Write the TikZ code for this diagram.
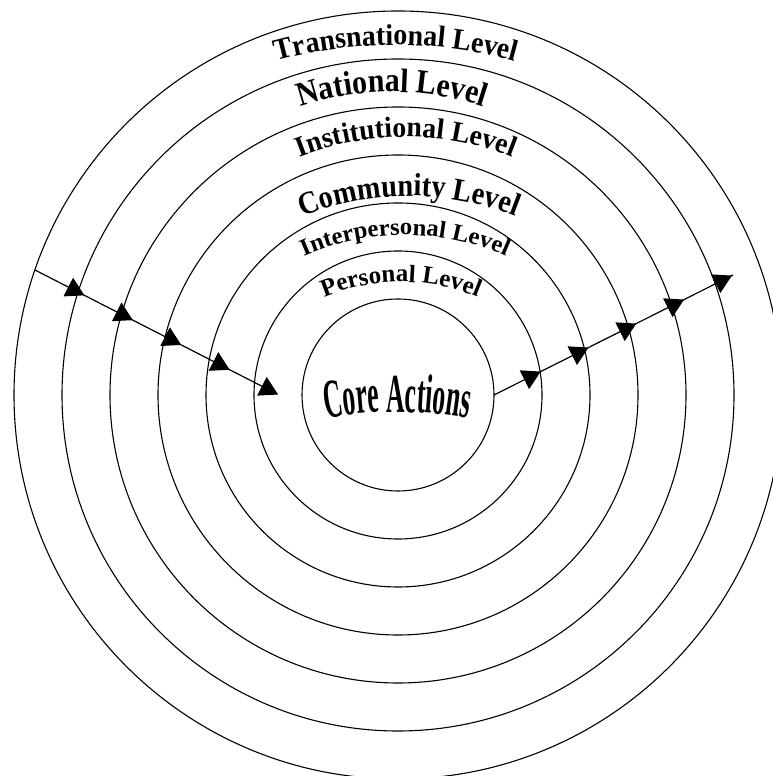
\documentclass[tikz,border=0pt]{standalone}
\usepackage{fontspec}
\setmainfont{Liberation Serif}
\usetikzlibrary{decorations.text,decorations.markings}
\newfontfamily\fTrans[FakeStretch=0.93]{Liberation Serif Bold}
\newfontfamily\fNat[FakeStretch=0.88]{Liberation Serif Bold}
\newfontfamily\fInst[FakeStretch=0.955]{Liberation Serif Bold}
\newfontfamily\fComm[FakeStretch=0.885]{Liberation Serif Bold}
\newfontfamily\fInter[FakeStretch=1.03]{Liberation Serif Bold}
\newfontfamily\fPers[FakeStretch=1.0]{Liberation Serif Bold}
\newfontfamily\fCore[FakeStretch=0.465]{Liberation Serif Bold}
\tikzset{
  ring/.style={circle, draw=black, line width=1.1pt, inner sep=0pt, outer sep=0pt},
  levellabel/.style={decorate, decoration={text along path, text align=center}},
  tri/.style={fill=black},
  flow/.style={line width=1.2pt, postaction={decorate, decoration={markings,
     mark=between positions #1 step 0.2 with {\fill[tri] (12.1pt,0pt)--(-6.06pt,10.5pt)--(-6.06pt,-10.5pt)--cycle;}}}}
}
\begin{document}
\begin{tikzpicture}[x=1pt,y=1pt]
\useasboundingbox (0,0) rectangle (773,776);
\fill[white] (0,0) rectangle (773,776);
\coordinate (C) at (398,381);
% rings
\node[ring, minimum size=768pt] (transnational) at (C) {};
\node[ring, minimum size=672pt] (national) at (C) {};
\node[ring, minimum size=576pt] (institutional) at (C) {};
\node[ring, minimum size=480pt] (community) at (C) {};
\node[ring, minimum size=384pt] (interpersonal) at (C) {};
\node[ring, minimum size=288pt] (personal) at (C) {};
\node[ring, minimum size=192pt] (core) at (C) {};
% labels along arcs
\path[levellabel, decoration={text={|\fTrans\fontsize{30}{30}\selectfont|Transnational Level}}]
  ([shift={(396,281)}]130:450) arc[start angle=130, end angle=50, radius=450];
\path[levellabel, decoration={text={|\fNat\fontsize{34}{34}\selectfont|National Level}}]
  ([shift={(392,394)}]140:290) arc[start angle=140, end angle=40, radius=290];
\path[levellabel, decoration={text={|\fInst\fontsize{29}{29}\selectfont|Institutional Level}}]
  ([shift={(406,349)}]140:290) arc[start angle=140, end angle=40, radius=290];
\path[levellabel, decoration={text={|\fComm\fontsize{32}{32}\selectfont|Community Level}}]
  ([shift={(409,290)}]140:290) arc[start angle=140, end angle=40, radius=290];
\path[levellabel, decoration={text={|\fInter\fontsize{24}{24}\selectfont|Interpersonal Level}}]
  ([shift={(405,291)}]145:250) arc[start angle=145, end angle=35, radius=250];
\path[levellabel, decoration={text={|\fPers\fontsize{25}{25}\selectfont|Personal Level}}]
  ([shift={(401,294)}]150:200) arc[start angle=150, end angle=30, radius=200];
\path[levellabel, decoration={text={|\fCore\fontsize{55}{55}\selectfont|Core Actions}}]
  ([shift={(397.5,-36)}]120:400) arc[start angle=120, end angle=60, radius=400];
% flows
\coordinate (lend) at (277,382);
\coordinate (rend) at (733,501);
\draw[flow={0.16 and 0.961}] (transnational.161.5) -- (lend);
\draw[flow={0.15 and 0.951}] (core.0.6) -- (rend);
\end{tikzpicture}
\end{document}
